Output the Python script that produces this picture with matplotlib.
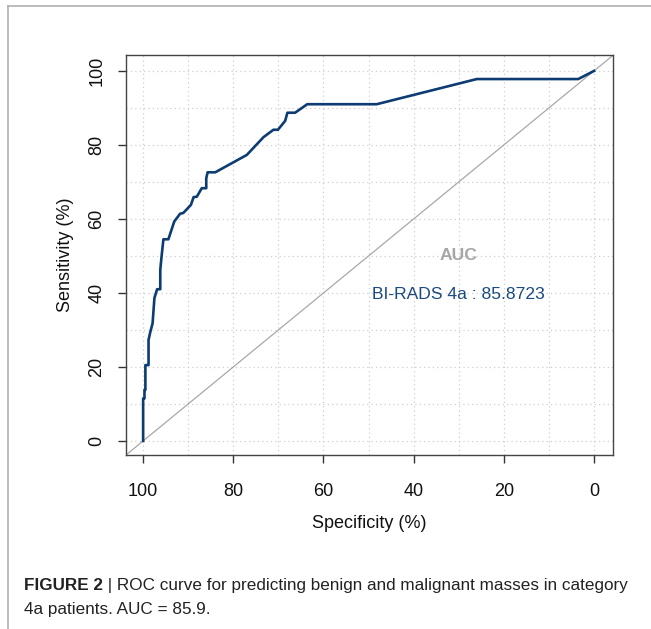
import matplotlib
matplotlib.use("Agg")
import matplotlib.pyplot as plt
from matplotlib.lines import Line2D

# ---- data ----
specificity = [100, 100, 99.7, 99.7, 99.5, 99.5, 98.8, 98.8, 98.4, 97.9, 97.5, 96.9,
               96.2, 96.2, 95.9, 95.5, 94.4, 93.1, 91.8, 91.1, 89.4, 88.8, 88.1, 87.0,
               86.0, 86.0, 85.7, 84.0, 77.0, 73.3, 71.1, 70.1, 68.5, 68.0, 66.3, 63.6,
               48.2, 26.0, 3.5, 0]
sensitivity = [0, 11.5, 11.5, 13.8, 13.8, 20.5, 20.5, 27.3, 29.5, 31.8, 38.6, 41.0,
               41.0, 46.2, 50.0, 54.5, 54.5, 59.3, 61.4, 61.6, 63.8, 65.9, 66.0, 68.3,
               68.3, 71.0, 72.6, 72.6, 77.3, 82.1, 84.1, 84.1, 86.5, 88.7, 88.7, 91.0,
               91.0, 97.8, 97.8, 100]
x_ticks = [100, 80, 60, 40, 20, 0]
y_ticks = [0, 20, 40, 60, 80, 100]
grid_vals = list(range(0, 101, 10))
auc_label = "AUC"
auc_text = "BI-RADS 4a : 85.8723"
caption_bold = "FIGURE 2"
caption_line1 = " | ROC curve for predicting benign and malignant masses in category"
caption_line2 = "4a patients. AUC = 85.9."

plt.rcParams['font.family'] = ['Liberation Sans', 'DejaVu Sans']

W, H = 651, 629
fig = plt.figure(figsize=(W / 100, H / 100), dpi=100)

ax = fig.add_axes([126 / W, 1 - 455 / H, (612.5 - 126) / W, (455 - 55) / H])
ax.set_xlim(103.8, -4.1)
ax.set_ylim(-3.8, 104.3)

for g in grid_vals:
    ax.axvline(g, color='#cfcfcf', lw=0.9, ls=(0, (1, 2.5)), zorder=0)
    ax.axhline(g, color='#cfcfcf', lw=0.9, ls=(0, (1, 2.5)), zorder=0)

ax.axline((100, 0), (0, 100), color='#a8a8a8', lw=0.9, zorder=1)
ax.plot(specificity, sensitivity, color='#0c3c72', lw=1.9, zorder=3,
        solid_joinstyle='round')

ax.text(30, 50, auc_label, color='#a6a6a6', fontsize=12.6, fontweight='bold',
        ha='center', va='center')
ax.text(30, 39.7, auc_text, color='#1a4a80', fontsize=12.6,
        ha='center', va='center')

ax.set_xticks(x_ticks)
ax.set_xticklabels([str(v) for v in x_ticks])
ax.set_yticks(y_ticks)
ax.set_yticklabels([str(v) for v in y_ticks], rotation=90, va='center')
ax.tick_params(direction='out', length=6, width=1, color='#333333',
               labelsize=13, labelcolor='#111111')
ax.tick_params(axis='x', pad=14)
ax.tick_params(axis='y', pad=9)
for s in ax.spines.values():
    s.set_color('#444444')
    s.set_linewidth(1.0)

ax.set_xlabel("Specificity (%)", fontsize=13, color='#111111', labelpad=11)
ax.set_ylabel("Sensitivity (%)", fontsize=13, color='#111111', labelpad=10)

# figure border (top and left)
fig.add_artist(Line2D([8 / W, 1], [1 - 6 / H, 1 - 6 / H], transform=fig.transFigure,
                      color='#b0b0b0', lw=1.2))
fig.add_artist(Line2D([8 / W, 8 / W], [1 - 6 / H, 0], transform=fig.transFigure,
                      color='#b0b0b0', lw=1.2))

# caption
cap_fam = ['Liberation Sans', 'DejaVu Sans']
t1 = fig.text(24 / W, 1 - 590 / H, caption_bold, fontsize=12.3, fontweight='bold',
              color='#222222', family=cap_fam, va='baseline', ha='left')
fig.canvas.draw()
r = fig.canvas.get_renderer()
bb = t1.get_window_extent(renderer=r)
fig.text(bb.x1 / W, 1 - 590 / H, caption_line1, fontsize=12.3, color='#222222',
         family=cap_fam, va='baseline', ha='left')
fig.text(24 / W, 1 - 614 / H, caption_line2, fontsize=12.3, color='#222222',
         family=cap_fam, va='baseline', ha='left')

fig.savefig("out.png", dpi=100)
